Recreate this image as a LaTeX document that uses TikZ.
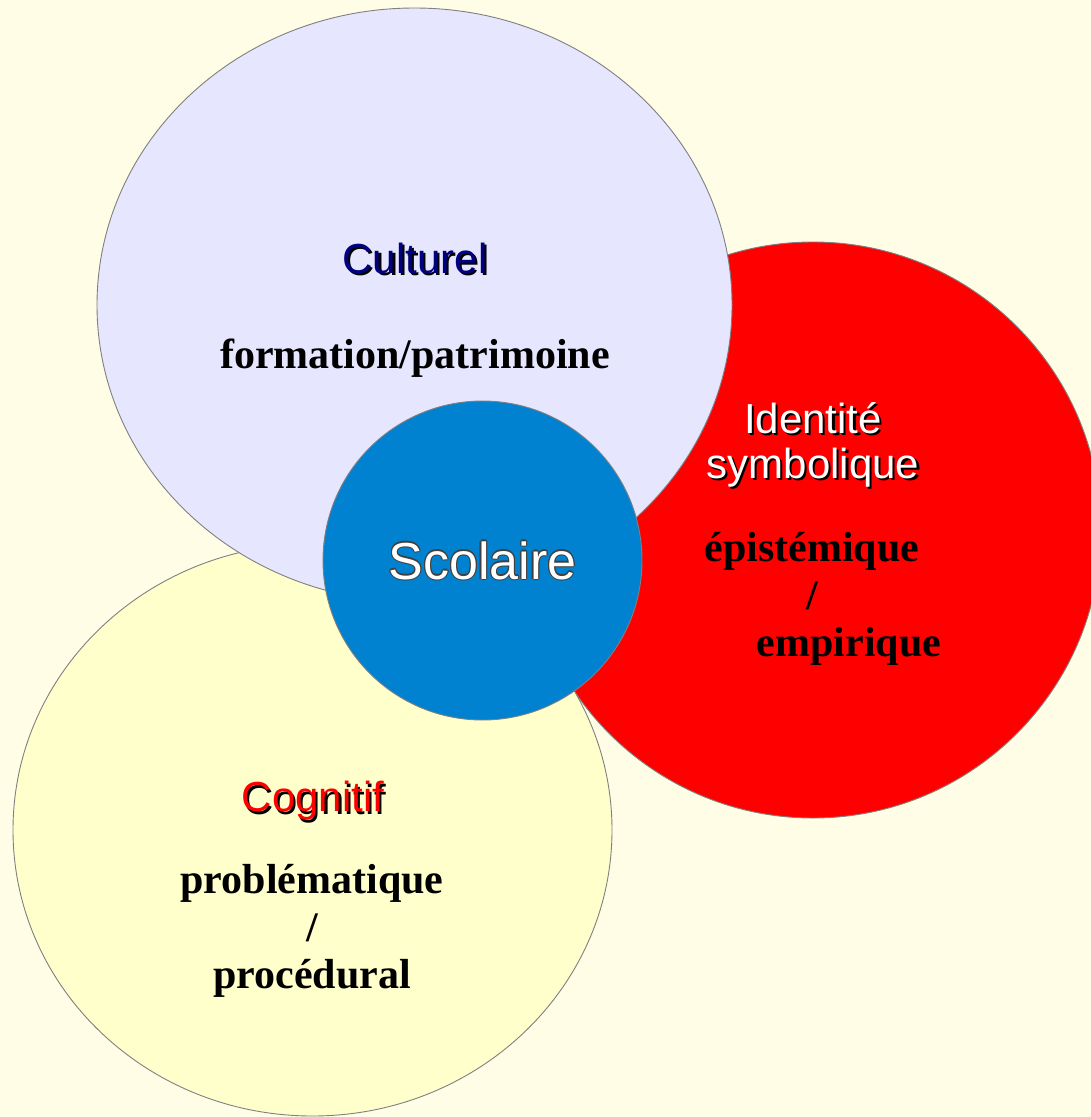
\documentclass[tikz,border=0pt]{standalone}
\usepackage{fontspec}
\setmainfont{Liberation Serif}
\newfontfamily\titrefont{Liberation Sans}
\usepackage{tikz}

\definecolor{fond}{RGB}{255,253,230}
\definecolor{lavande}{RGB}{230,230,255}
\definecolor{jaune}{RGB}{255,255,204}
\definecolor{rouge}{RGB}{255,0,0}
\definecolor{bleu}{RGB}{0,130,208}
\definecolor{marine}{RGB}{0,0,128}
\definecolor{trait}{RGB}{128,128,128}

\tikzset{
  cercle/.style={draw=trait, line width=0.9pt},
  titre/.style={font={\titrefont\fontsize{42}{45}\selectfont}, align=center, inner sep=0pt},
  gras/.style={font={\bfseries\fontsize{42}{47.5}\selectfont}, align=center, inner sep=0pt}
}

% texte avec ombre portee : nom, position, couleur, texte
\newcommand{\ombre}[4]{%
  \node[titre, text=black, xshift=2.2pt, yshift=-2.2pt] at (#2) {#4};
  \node[titre, text=#3] (#1) at (#2) {#4};}

\begin{document}
\begin{tikzpicture}[x=1pt, y=-1pt]
    \useasboundingbox[fill=fond] (0,0) rectangle (1091,1117);
    % centres des cercles
    \coordinate (c-ide) at (813,530);
    \coordinate (c-cog) at (312.5,830);
    \coordinate (c-cul) at (414.5,305);
    \coordinate (c-sco) at (482.5,560.5);
    % cercles, du fond vers le dessus
    \filldraw[cercle, fill=rouge] (c-ide) circle [radius=288];
    \filldraw[cercle, fill=jaune] (c-cog) ellipse [x radius=299.5, y radius=286];
    \filldraw[cercle, fill=lavande] (c-cul) ellipse [x radius=317.5, y radius=297];
    \filldraw[cercle, fill=bleu] (c-sco) circle [radius=159.5];
    % titres
    \ombre{culturel}{415,258}{marine}{Culturel}
    \ombre{identite}{813,445}{white}{Identit\'e\\symbolique}
    \ombre{cognitif}{313,801}{rouge}{Cognitif}
    \foreach \a in {0,45,...,315}
      \node[titre, font={\titrefont\fontsize{52}{56}\selectfont}, text=black!75, shift={(\a:1.2)}] at (c-sco) {Scolaire};
    \node[titre, font={\titrefont\fontsize{52}{56}\selectfont}, text=white] (scolaire) at (c-sco) {Scolaire};
    % sous-titres
    \node[gras] (formation) at (415,358) {formation/patrimoine};
    \node[gras] (episteme) at (812,599) {\'epist\'emique\\/\\\hspace*{74pt}empirique};
    \node[gras] (probleme) at (312,931) {probl\'ematique\\/\\proc\'edural};
\end{tikzpicture}
\end{document}
